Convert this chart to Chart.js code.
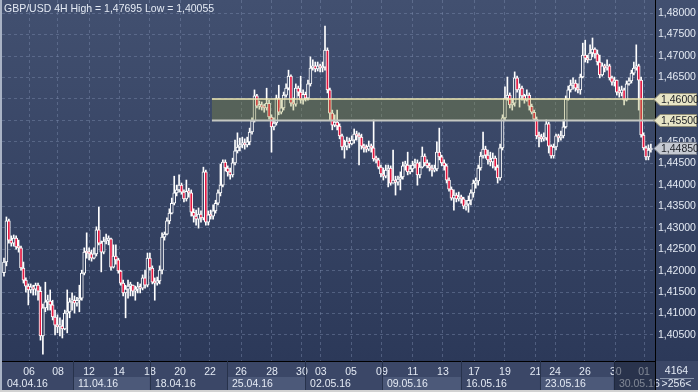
<!DOCTYPE html>
<html>
<head>
<meta charset="utf-8">
<script src="https://cdn.jsdelivr.net/npm/chart.js@4.4.1/dist/chart.umd.min.js"></script>
<style>
  html, body { margin: 0; padding: 0; background: #2b3858; overflow: hidden; }
  canvas { display: block; }
</style>
</head>
<body>
<canvas id="c" width="698" height="392"></canvas>
<script>
// GBP/USD 4H, 04.04.16 - 01.06.16
const title = 'GBP/USD 4H High = 1,47695 Low = 1,40055';

const dayLabels = ['06','08','12','14','18','20','22','26','28','30','03','05','09','11','13','17','19','21','24','26','30','01'];
const dayTicks = [10.3,22.2,35.0,47.3,60.0,72.4,84.7,97.5,110.2,122.5,130.3,142.7,155.4,168.1,180.5,193.3,206.0,218.6,226.6,238.9,251.6,263.2];
const weekLabels = ['04.04.16','11.04.16','18.04.16','25.04.16','02.05.16','09.05.16','16.05.16','23.05.16','30.05.16'];
const weekStarts = [-0.82,28.4,60.0,91.7,123.8,155.4,187.9,220.4,250.8];
const priceTicks = [1.405,1.41,1.415,1.42,1.425,1.43,1.435,1.44,1.445,1.45,1.455,1.46,1.465,1.47,1.475,1.48];

const zoneHigh = 1.46;
const zoneLow = 1.455;
const zoneStart = 85.5;
const lastPrice = 1.4485;
const barCount = '4164';
const zoomInfo = '>256<';

// first bar's open; every later bar opens at the previous close
const firstOpen = 1.4195;
const closes = [
  1.4220,1.4316,1.4271,1.4264,1.4276,1.4255,1.4253,1.4206,1.4178,1.4164,
  1.4155,1.4162,1.4157,1.4166,1.4152,1.4048,1.4113,1.4127,1.4129,1.4120,
  1.4092,1.4073,1.4069,1.4071,1.4064,1.4101,1.4104,1.4127,1.4131,1.4124,
  1.4131,1.4136,1.4194,1.4243,1.4241,1.4239,1.4229,1.4239,1.4295,1.4264,
  1.4243,1.4269,1.4271,1.4274,1.4208,1.4234,1.4225,1.4199,1.4171,1.4148,
  1.4157,1.4164,1.4166,1.4152,1.4157,1.4162,1.4159,1.4183,1.4166,1.4229,
  1.4206,1.4173,1.4171,1.4176,1.4201,1.4278,1.4285,1.4316,1.4334,1.4357,
  1.4381,1.4388,1.4399,1.4383,1.4367,1.4385,1.4381,1.4336,1.4327,1.4320,
  1.4332,1.4323,1.4430,1.4313,1.4330,1.4327,1.4339,1.4357,1.4381,1.4399,
  1.4453,1.4439,1.4430,1.4423,1.4451,1.4479,1.4488,1.4493,1.4497,1.4493,
  1.4500,1.4523,1.4549,1.4607,1.4583,1.4586,1.4581,1.4579,1.4590,1.4558,
  1.4535,1.4544,1.4602,1.4569,1.4579,1.4609,1.4625,1.4653,1.4590,1.4588,
  1.4625,1.4616,1.4597,1.4611,1.4602,1.4635,1.4672,1.4677,1.4670,1.4677,
  1.4672,1.4674,1.4714,1.4621,1.4567,1.4539,1.4546,1.4537,1.4514,1.4488,
  1.4490,1.4502,1.4495,1.4504,1.4518,1.4514,1.4511,1.4490,1.4486,1.4483,
  1.4490,1.4486,1.4460,1.4458,1.4441,1.4425,1.4420,1.4434,1.4439,1.4404,
  1.4411,1.4406,1.4413,1.4418,1.4444,1.4446,1.4430,1.4437,1.4446,1.4451,
  1.4423,1.4441,1.4467,1.4451,1.4444,1.4439,1.4434,1.4437,1.4476,1.4465,
  1.4451,1.4444,1.4411,1.4390,1.4369,1.4376,1.4367,1.4371,1.4367,1.4350,
  1.4355,1.4364,1.4381,1.4404,1.4409,1.4439,1.4467,1.4483,1.4469,1.4458,
  1.4453,1.4462,1.4441,1.4416,1.4486,1.4556,1.4602,1.4609,1.4586,1.4590,
  1.4649,1.4621,1.4625,1.4607,1.4597,1.4609,1.4583,1.4569,1.4553,1.4514,
  1.4511,1.4507,1.4509,1.4542,1.4490,1.4467,1.4488,1.4514,1.4509,1.4514,
  1.4535,1.4600,1.4621,1.4632,1.4637,1.4625,1.4621,1.4651,1.4702,1.4695,
  1.4691,1.4707,1.4716,1.4705,1.4686,1.4656,1.4677,1.4672,1.4677,1.4649,
  1.4639,1.4644,1.4616,1.4614,1.4621,1.4597,1.4635,1.4642,1.4660,1.4672,
  1.4677,1.4644,1.4516,1.4486,1.4465,1.4481,1.4485
];
const highs = [
  1.4229,1.4325,1.4320,1.4281,1.4283,1.4281,1.4271,1.4257,1.4220,1.4183,
  1.4169,1.4169,1.4166,1.4171,1.4171,1.4162,1.4122,1.4173,1.4143,1.4155,
  1.4131,1.4108,1.4097,1.4090,1.4085,1.4108,1.4155,1.4136,1.4148,1.4141,
  1.4138,1.4166,1.4201,1.4253,1.4288,1.4253,1.4248,1.4253,1.4302,1.4348,
  1.4269,1.4278,1.4285,1.4281,1.4276,1.4260,1.4260,1.4229,1.4201,1.4178,
  1.4166,1.4178,1.4173,1.4164,1.4164,1.4173,1.4169,1.4190,1.4201,1.4241,
  1.4241,1.4211,1.4183,1.4185,1.4211,1.4288,1.4290,1.4323,1.4344,1.4369,
  1.4420,1.4399,1.4423,1.4404,1.4388,1.4411,1.4392,1.4388,1.4344,1.4341,
  1.4346,1.4339,1.4441,1.4434,1.4339,1.4341,1.4353,1.4364,1.4388,1.4448,
  1.4458,1.4458,1.4444,1.4439,1.4462,1.4504,1.4521,1.4509,1.4511,1.4507,
  1.4511,1.4532,1.4556,1.4621,1.4611,1.4595,1.4593,1.4588,1.4625,1.4597,
  1.4563,1.4556,1.4609,1.4632,1.4597,1.4616,1.4635,1.4667,1.4656,1.4602,
  1.4635,1.4630,1.4653,1.4621,1.4616,1.4644,1.4698,1.4691,1.4686,1.4686,
  1.4681,1.4686,1.47695,1.4719,1.4625,1.4574,1.4563,1.4574,1.4542,1.4518,
  1.4504,1.4511,1.4509,1.4514,1.4530,1.4525,1.4521,1.4518,1.4495,1.4493,
  1.4502,1.4495,1.4551,1.4467,1.4462,1.4446,1.4439,1.4446,1.4446,1.4444,
  1.4481,1.4420,1.4420,1.4430,1.4453,1.4455,1.4476,1.4446,1.4455,1.4460,
  1.4458,1.4453,1.4488,1.4472,1.4458,1.4451,1.4446,1.4446,1.4500,1.4532,
  1.4469,1.4458,1.4448,1.4416,1.4395,1.4388,1.4381,1.4383,1.4376,1.4371,
  1.4364,1.4374,1.4388,1.4411,1.4416,1.4446,1.4476,1.4523,1.4490,1.4481,
  1.4476,1.4474,1.4467,1.4446,1.4495,1.4563,1.4628,1.4651,1.4614,1.4600,
  1.4663,1.4653,1.4635,1.4630,1.4611,1.4621,1.4614,1.4588,1.4574,1.4558,
  1.4523,1.4518,1.4521,1.4551,1.4546,1.4493,1.4495,1.4518,1.4518,1.4525,
  1.4551,1.4607,1.4630,1.4644,1.4649,1.4644,1.4635,1.4658,1.4730,1.4737,
  1.4702,1.4726,1.4742,1.4719,1.4714,1.4702,1.4684,1.4681,1.4691,1.4681,
  1.4653,1.4651,1.4644,1.4628,1.4630,1.4625,1.4642,1.4649,1.4667,1.4686,
  1.4726,1.4681,1.4651,1.4521,1.4490,1.4493,1.4495
];
const lows = [
  1.4187,1.4211,1.4264,1.4257,1.4257,1.4250,1.4243,1.4201,1.4171,1.4150,
  1.4120,1.4148,1.4143,1.4143,1.4131,1.4038,1.40055,1.4104,1.4108,1.4108,
  1.4085,1.4050,1.4055,1.4048,1.4043,1.4062,1.4055,1.4090,1.4108,1.4101,
  1.4117,1.4104,1.4131,1.4190,1.4229,1.4225,1.4222,1.4227,1.4234,1.4260,
  1.4197,1.4239,1.4262,1.4260,1.4201,1.4206,1.4215,1.4194,1.4166,1.4141,
  1.4090,1.4136,1.4141,1.4141,1.4131,1.4148,1.4148,1.4155,1.4159,1.4162,
  1.4201,1.4169,1.4131,1.4166,1.4169,1.4192,1.4271,1.4283,1.4309,1.4332,
  1.4353,1.4374,1.4383,1.4378,1.4360,1.4362,1.4371,1.4327,1.4313,1.4306,
  1.4299,1.4313,1.4318,1.4306,1.4306,1.4320,1.4320,1.4334,1.4353,1.4374,
  1.4395,1.4432,1.4420,1.4413,1.4418,1.4446,1.4474,1.4479,1.4486,1.4483,
  1.4488,1.4493,1.4518,1.4546,1.4579,1.4576,1.4574,1.4569,1.4574,1.4553,
  1.4476,1.4528,1.4539,1.4563,1.4565,1.4574,1.4604,1.4621,1.4583,1.4574,
  1.4583,1.4607,1.4590,1.4588,1.4595,1.4597,1.4630,1.4667,1.4663,1.4665,
  1.4663,1.4663,1.4667,1.4614,1.4551,1.4528,1.4535,1.4528,1.4507,1.4481,
  1.4462,1.4481,1.4486,1.4493,1.4497,1.4504,1.4446,1.4483,1.4476,1.4476,
  1.4479,1.4476,1.4455,1.4451,1.4437,1.4418,1.4411,1.4416,1.4395,1.4399,
  1.4404,1.4376,1.4399,1.4388,1.4413,1.4434,1.4423,1.4425,1.4430,1.4439,
  1.4399,1.4416,1.4439,1.4444,1.4439,1.4432,1.4420,1.4430,1.4432,1.4458,
  1.4444,1.4434,1.4404,1.4385,1.4364,1.4341,1.4360,1.4362,1.4357,1.4344,
  1.4341,1.4336,1.4353,1.4371,1.4392,1.4399,1.4434,1.4462,1.4462,1.4448,
  1.4444,1.4439,1.4434,1.4404,1.4411,1.4481,1.4551,1.4597,1.4579,1.4574,
  1.4583,1.4616,1.4581,1.4597,1.4590,1.4595,1.4574,1.4565,1.4549,1.4507,
  1.4488,1.4500,1.4502,1.4504,1.4474,1.4462,1.4462,1.4481,1.4500,1.4504,
  1.4509,1.4532,1.4597,1.4616,1.4623,1.4618,1.4614,1.4611,1.4649,1.4686,
  1.4684,1.4691,1.4698,1.4695,1.4679,1.4649,1.4653,1.4663,1.4667,1.4644,
  1.4632,1.4630,1.4609,1.4604,1.4607,1.4586,1.4595,1.4632,1.4637,1.4656,
  1.4667,1.4574,1.4511,1.4481,1.4458,1.4458,1.4476
];

const opens = closes.map((c, i) => i === 0 ? firstOpen : closes[i - 1]);

const FONT = '"Liberation Sans", Arial, sans-serif';
const RED = '#e3163f';
const TEXT = '#e4eaf4';

let plotGrad = null;
function plotFill(ctx) {
  if (!plotGrad) {
    plotGrad = ctx.createLinearGradient(0, 0, 0, 361);
    plotGrad.addColorStop(0, '#425070');
    plotGrad.addColorStop(1, '#2c3959');
  }
  return plotGrad;
}

const fmt = v => v.toFixed(5).replace('.', ',');

const decor = {
  id: 'decor',
  beforeDraw(chart) {
    const { ctx, chartArea: a, scales: { x } } = chart;
    ctx.save();
    ctx.fillStyle = plotFill(ctx);
    ctx.fillRect(0, 0, chart.width, chart.height);
    ctx.fillStyle = '#3b4767';
    ctx.fillRect(0, a.bottom, chart.width, chart.height - a.bottom);
    weekStarts.forEach((w, k) => {
      const x0 = Math.max(a.left, x.getPixelForValue(w));
      const x1 = k + 1 < weekStarts.length ? x.getPixelForValue(weekStarts[k + 1]) : a.right;
      ctx.fillStyle = k % 2 ? '#4c5979' : '#3b4767';
      ctx.fillRect(x0, a.bottom + 16, x1 - x0, 13);
    });
    ctx.restore();
  },
  afterDatasetsDraw(chart) {
    const { ctx, chartArea: a, scales: { x, y } } = chart;
    const yt = y.getPixelForValue(zoneHigh);
    const yb = y.getPixelForValue(zoneLow);
    const x0 = x.getPixelForValue(zoneStart);
    ctx.save();
    ctx.fillStyle = 'rgba(150,155,52,0.3)';
    ctx.fillRect(x0, yt, a.right - x0, yb - yt);
    ctx.strokeStyle = '#efe9b4';
    ctx.lineWidth = 1.5;
    ctx.beginPath(); ctx.moveTo(x0, yt); ctx.lineTo(a.right, yt); ctx.stroke();
    ctx.strokeStyle = '#c4c7c2';
    ctx.lineWidth = 2;
    ctx.beginPath(); ctx.moveTo(x0, yb); ctx.lineTo(a.right, yb); ctx.stroke();
    ctx.restore();
  },
  afterDraw(chart) {
    const { ctx, chartArea: a, scales: { x, y } } = chart;
    const W = chart.width, H = chart.height;
    ctx.save();
    ctx.font = '10.5px ' + FONT;
    ctx.textBaseline = 'middle';

    // week row labels and separators
    weekStarts.forEach((w, k) => {
      const x0 = Math.max(a.left, x.getPixelForValue(w));
      ctx.fillStyle = TEXT;
      ctx.textAlign = 'left';
      ctx.fillText(weekLabels[k], x0 + 5, a.bottom + 23);
      if (k > 0) {
        ctx.fillStyle = '#27324b';
        ctx.fillRect(Math.round(x0), a.bottom, 1, H - a.bottom - 2);
      }
    });
    // dimmed last week in the axis strip
    const xd = x.getPixelForValue(weekStarts[weekStarts.length - 1]);
    ctx.fillStyle = 'rgba(24,31,50,0.5)';
    ctx.fillRect(xd, a.bottom + 1, a.right - xd, H - a.bottom - 3);

    // axis corner box
    ctx.fillStyle = '#000';
    ctx.fillRect(a.right, a.bottom, 1, H - a.bottom);
    ctx.fillStyle = TEXT;
    ctx.textAlign = 'center';
    const cx = (a.right + W) / 2;
    ctx.fillText(barCount, cx, a.bottom + 10);
    ctx.fillText(zoomInfo, cx, a.bottom + 23);
    ctx.fillStyle = '#8a96ac';
    ctx.fillRect(a.right + 5, a.bottom + 17, W - a.right - 9, 1);

    // price tags
    const tag = (v, fill, edge) => {
      const py = Math.round(y.getPixelForValue(v)) + 0.5;
      ctx.beginPath();
      ctx.moveTo(a.right - 1, py);
      ctx.lineTo(a.right + 5, py - 6);
      ctx.lineTo(W - 1.5, py - 6);
      ctx.lineTo(W - 1.5, py + 6);
      ctx.lineTo(a.right + 5, py + 6);
      ctx.closePath();
      ctx.fillStyle = fill;
      ctx.fill();
      ctx.strokeStyle = edge;
      ctx.lineWidth = 1;
      ctx.stroke();
      ctx.fillStyle = '#1c1f26';
      ctx.textAlign = 'left';
      ctx.fillText(fmt(v), a.right + 6, py + 0.5);
    };
    tag(zoneHigh, '#e8e5c6', '#8e8c78');
    tag(zoneLow, '#e8e5c6', '#8e8c78');
    tag(lastPrice, '#c6cad2', '#7c828e');

    // title
    ctx.fillStyle = TEXT;
    ctx.textAlign = 'left';
    ctx.fillText(title, 4, 9);

    // window frame
    ctx.fillStyle = '#a9b3c5';
    ctx.fillRect(0, 0, 2, H);
    ctx.fillStyle = '#d2d2d2';
    ctx.fillRect(0, H - 2, W, 2);
    ctx.restore();
  }
};

const chart = new Chart(document.getElementById('c').getContext('2d'), {
  type: 'bar',
  data: {
    datasets: [{
      label: 'wicks',
      data: closes.map((c, i) => ({ x: i, y: [Math.min(lows[i], opens[i], c), Math.max(highs[i], opens[i], c)] })),
      backgroundColor: '#ffffff',
      barThickness: 1,
      grouped: false,
      order: 2
    }, {
      label: 'bodies',
      data: closes.map((c, i) => ({ x: i, y: [opens[i], c] })),
      backgroundColor: ctx => {
        const i = ctx.dataIndex;
        if (i === undefined) return RED;
        return closes[i] < opens[i] ? RED : plotFill(ctx.chart.ctx);
      },
      borderColor: '#ffffff',
      borderWidth: 1,
      borderSkipped: false,
      barThickness: 3,
      minBarLength: 2,
      grouped: false,
      order: 1
    }]
  },
  options: {
    responsive: false,
    animation: false,
    events: [],
    layout: { padding: { left: 2, top: 0, right: 0, bottom: 0 } },
    plugins: { legend: { display: false }, tooltip: { enabled: false } },
    scales: {
      x: {
        type: 'linear',
        min: -0.82,
        max: 267.7,
        offset: false,
        afterBuildTicks: s => { s.ticks = dayTicks.map(v => ({ value: v })); },
        afterFit: s => { s.height = 31; s.paddingLeft = 0; s.paddingRight = 0; },
        ticks: {
          callback: (v, i) => dayLabels[i],
          color: TEXT,
          font: { family: FONT, size: 10.5 },
          padding: 5,
          maxRotation: 0,
          autoSkip: false
        },
        grid: { color: 'rgba(125,140,172,0.45)', drawTicks: false, offset: false },
        border: { display: true, color: '#000000', width: 1, dash: [3, 3] }
      },
      y: {
        position: 'right',
        min: 1.39894,
        max: 1.48305,
        afterBuildTicks: s => { s.ticks = priceTicks.map(v => ({ value: v })); },
        afterFit: s => { s.width = 43; s.paddingTop = 0; s.paddingBottom = 0; },
        ticks: {
          callback: v => fmt(v),
          color: TEXT,
          font: { family: FONT, size: 10.5 },
          padding: 3
        },
        grid: { color: 'rgba(125,140,172,0.45)', drawTicks: false },
        border: { display: true, color: '#000000', width: 1, dash: [3, 3] }
      }
    }
  },
  plugins: [decor]
});
</script>
</body>
</html>
